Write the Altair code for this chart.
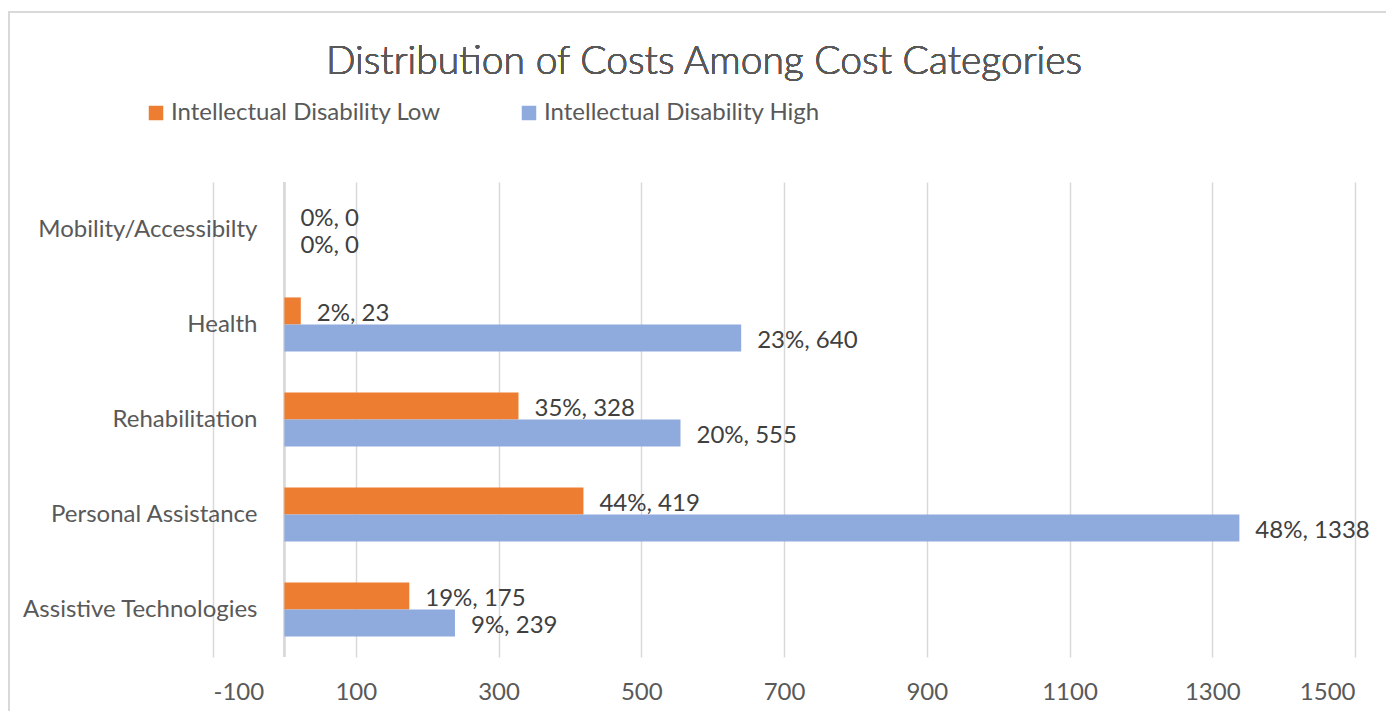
import altair as alt
import pandas as pd

categories = ["Assistive Technologies", "Personal Assistance", "Rehabilitation", "Health", "Mobility/Accessibilty"]
series = ["Intellectual Disability Low", "Intellectual Disability High"]
low_values = [175, 419, 328, 23, 0]
low_pct = [19, 44, 35, 2, 0]
high_values = [239, 1338, 555, 640, 0]
high_pct = [9, 48, 20, 23, 0]
x_ticks = [-100, 100, 300, 500, 700, 900, 1100, 1300, 1500]
colors = ["#ED7D31", "#8FAADC"]
title_text = "Distribution of Costs Among Cost Categories"

rows = []
for i, c in enumerate(categories):
    rows.append({"category": c, "series": series[0], "value": low_values[i],
                 "label": f"{low_pct[i]}%, {low_values[i]}"})
    rows.append({"category": c, "series": series[1], "value": high_values[i],
                 "label": f"{high_pct[i]}%, {high_values[i]}"})
df = pd.DataFrame(rows)

FONT = "Lato"
order_top_down = list(reversed(categories))

y_enc = alt.Y("category:N", sort=order_top_down,
              scale=alt.Scale(paddingInner=0.43, paddingOuter=0.215),
              axis=alt.Axis(title=None, domain=False, ticks=False, grid=False,
                            offset=-72, labelPadding=28, labelFontSize=24, labelLimit=400,
                            labelColor="#595959", labelFont=FONT))
x_enc = alt.X("value:Q",
              scale=alt.Scale(domain=[-100, 1500], nice=False, zero=False),
              axis=alt.Axis(title=None, values=x_ticks, domain=False, ticks=False,
                            grid=True, gridColor="#d9d9d9", gridWidth=1.5,
                            labelExpr="'' + datum.value",
                            labelPadding=23, labelFontSize=24, labelColor="#595959",
                            labelFont=FONT))
yoff = alt.YOffset("series:N", sort=series, scale=alt.Scale(paddingInner=0, paddingOuter=0))

base = alt.Chart(df)

border = alt.Chart(df).mark_rect(fill=None, stroke="#d9d9d9", strokeWidth=1.5).encode(
    x=alt.value(-204), x2=alt.value(1300), y=alt.value(-170), y2=alt.value(700))

title = alt.Chart(df).mark_text(align="center", baseline="alphabetic", fontSize=39,
                                fontWeight=300, color="#595959", font=FONT).encode(
    x=alt.value(491), y=alt.value(-108), text=alt.datum(title_text))

zero_rule = alt.Chart(df).mark_rule(color="#d9d9d9", strokeWidth=1.5).encode(
    x=alt.datum(0), y=alt.value(0), y2=alt.value(475))

bars = base.mark_bar().encode(
    x=x_enc, y=y_enc, yOffset=yoff,
    color=alt.Color("series:N", sort=series,
                    scale=alt.Scale(domain=series, range=colors),
                    legend=alt.Legend(title=None, orient="none", legendX=-69, legendY=-81,
                                      direction="horizontal", symbolType="square",
                                      symbolSize=210, symbolStrokeWidth=0,
                                      labelFontSize=24, labelColor="#595959", labelLimit=500,
                                      labelFont=FONT, columnPadding=76, labelOffset=3)))

labels = base.mark_text(align="left", baseline="middle", dx=16, dy=3,
                        fontSize=24, color="#404040", font=FONT).encode(
    x="value:Q", y=alt.Y("category:N", sort=order_top_down), yOffset=yoff, text="label:N")

chart = alt.layer(border, title, zero_rule, bars, labels).properties(
    width=1142, height=475,
    autosize=alt.AutoSizeParams(type="none"),
    padding={"left": 205, "top": 174, "right": 31, "bottom": 54},
).configure_view(stroke=None)

chart.save("out.html", embed_options={"renderer": "svg", "actions": False})
